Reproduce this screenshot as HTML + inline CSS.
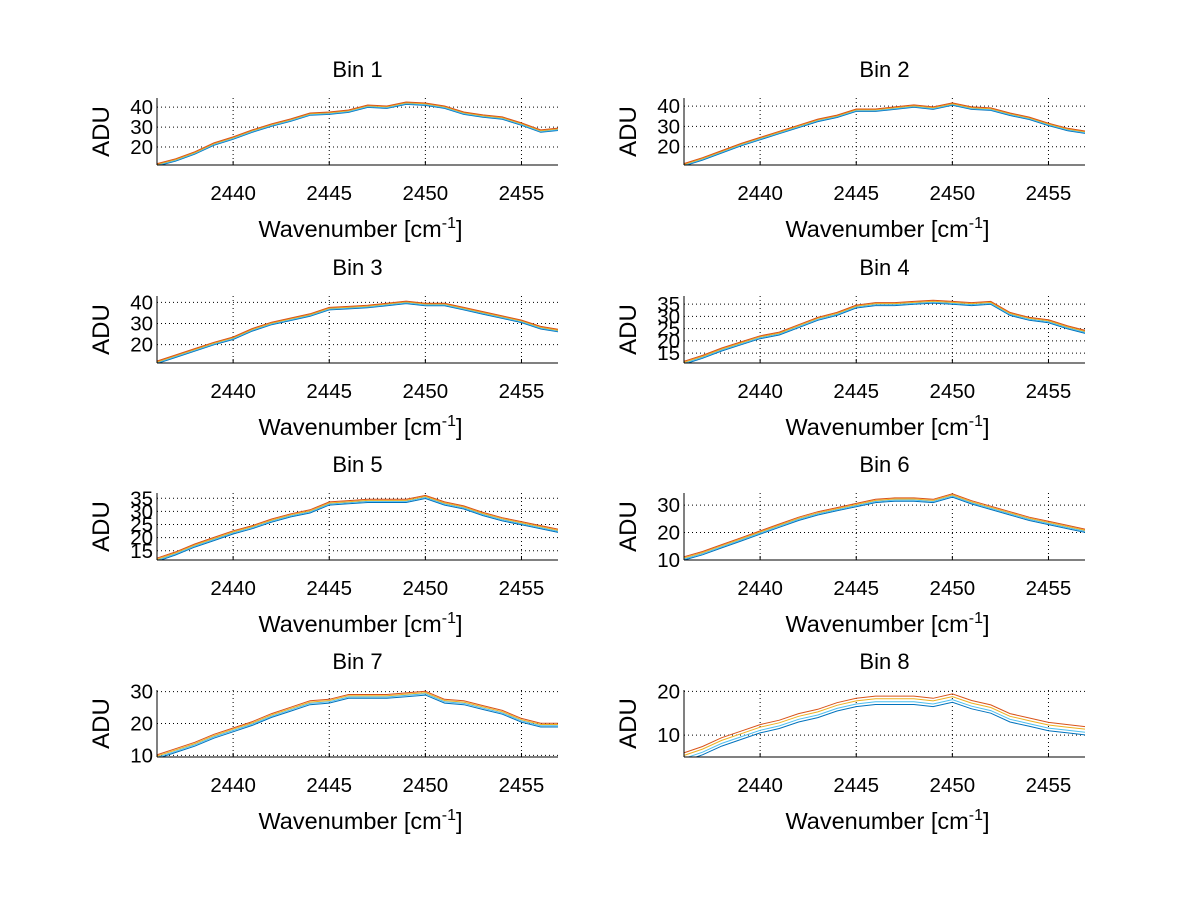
<!DOCTYPE html>
<html><head><meta charset="utf-8"><style>
body{margin:0;background:#fff;}
svg{display:block;font-family:"Liberation Sans",sans-serif;}
</style></head><body>
<svg id="fig" width="1200" height="901" viewBox="0 0 1200 901"></svg>
<script>
const xs = [2436,2437,2438,2439,2440,2441,2442,2443,2444,2445,2446,2447,2448,2449,2450,2451,2452,2453,2454,2455,2456,2457];
const bin1 = [11,13.5,17,21.5,24.5,28,31,33.5,36.5,37,38,40.5,40,42,41.5,40,37,35.5,34.5,31.5,28,29];
const bin2 = [11,14,17.5,21,24,27,30,33,35,38,38,39,40,39,41,39,38.5,36,34,31,28.5,27];
const bin3 = [11.5,14.5,17.5,20.5,23,27,30,32,34,37,37.5,38,39,40,39,39,37,35,33,31,28,26.5];
const bin4 = [11,13.5,16.5,19,21.5,23,26,29,31,34,35,35,35.5,36,35.5,35,35.5,31,29,28,25.5,23.5];
const bin5 = [11.5,14,17,19.5,22,24,26.5,28.5,30,33,33.5,34,34,34,35.5,33,31.5,29,27,25.5,24,22.5];
const bin6 = [10.5,12.5,15,17.5,20,22.5,25,27,28.5,30,31.5,32,32,31.5,33.5,31,29,27,25,23.5,22,20.5];
const bin7 = [9.5,11.5,13.5,16,18,20,22.5,24.5,26.5,27,28.5,28.5,28.5,29,29.5,27,26.5,25,23.5,21,19.5,19.5];
const bin8 = [5,6.5,8.5,10,11.5,12.5,14,15,16.5,17.5,18,18,18,17.5,18.5,17,16,14,13,12,11.5,11];
const binData = [bin1,bin2,bin3,bin4,bin5,bin6,bin7,bin8];
const yMins = [11,11,11.3,11,11.5,10,9.5,5];
const yMaxs = [44.6,44,43,38.3,37,34.4,30.5,20.3];
const yTicks = [[20,30,40],[20,30,40],[20,30,40],[15,20,25,30,35],[15,20,25,30,35],[10,20,30],[10,20,30],[10,20]];
const xTicks = [2440,2445,2450,2455];
const seriesOffsets = [-0.6,-0.2,0.2,0.6];
const bin8Offsets = [-1.0,-0.4,0.3,0.9];
const seriesColors = ['#0072bd','#4dbeee','#edb120','#d95319'];
const XMIN=2436.04, XMAX=2456.9;
const NS='http://www.w3.org/2000/svg';
const svg=document.getElementById('fig');
function mk(tag,attrs,parent){const e=document.createElementNS(NS,tag);for(const k in attrs)e.setAttribute(k,attrs[k]);(parent||svg).appendChild(e);return e;}
const colX=[157,684], W=401, rowY=[98,296,493,690], H=67;
for(let p=0;p<8;p++){
  const L=colX[p%2], T=rowY[Math.floor(p/2)];
  const g=mk('g',{});
  
  
  const sx=v=>L+(v-XMIN)/(XMAX-XMIN)*W;
  const sy=v=>T+H-(v-yMins[p])/(yMaxs[p]-yMins[p])*H;
  const clipId='c'+p;
  const cp=mk('clipPath',{id:clipId},g);mk('rect',{x:L,y:T,width:W,height:H},cp);
  xTicks.forEach(t=>{const l=mk('line',{x1:sx(t),x2:sx(t),y1:T,y2:T+H,stroke:'#000','stroke-width':1,'stroke-dasharray':'1,3'},g);
    
    mk('line',{x1:sx(t),x2:sx(t),y1:T+H,y2:T+H-4,stroke:'#000'},g);
    const tx=mk('text',{x:sx(t),y:T+H+35,'text-anchor':'middle','font-size':20.5},g);tx.textContent=t;
    });
  yTicks[p].forEach(t=>{const l=mk('line',{x1:L,x2:L+W,y1:sy(t),y2:sy(t),stroke:'#000','stroke-width':1,'stroke-dasharray':'1,3'},g);
    
    const tx=mk('text',{x:L-4,y:sy(t)+7,'text-anchor':'end','font-size':20.5},g);tx.textContent=t;
    });
  const offs = p===7?bin8Offsets:seriesOffsets;
  offs.forEach((o,si)=>{
    const pts=xs.map((x,i)=>sx(x).toFixed(1)+','+sy(binData[p][i]+o).toFixed(1)).join(' ');
    const pl=mk('polyline',{points:pts,fill:'none',stroke:seriesColors[si],'stroke-width':1,'clip-path':'url(#'+clipId+')'},g);
    
    
  });
  mk('line',{x1:L,x2:L,y1:T,y2:T+H,stroke:'#000'},g);
  mk('line',{x1:L,x2:L+W,y1:T+H,y2:T+H,stroke:'#000'},g);
  const ti=mk('text',{x:L+W/2,y:T-21,'text-anchor':'middle','font-size':22},g);ti.textContent='Bin '+(p+1);
  
  const xl=mk('text',{x:L+W/2+3,y:T+H+72,'text-anchor':'middle','font-size':23.5},g);
  xl.innerHTML='Wavenumber [cm<tspan dy="-9" font-size="16">-1</tspan><tspan dy="9">]</tspan>';
  
  const yl=mk('text',{x:0,y:0,'text-anchor':'middle','font-size':24,transform:'translate('+(L-48)+','+(T+H/2)+') rotate(-90)'},g);yl.textContent='ADU';
  
}
</script>
</body></html>
